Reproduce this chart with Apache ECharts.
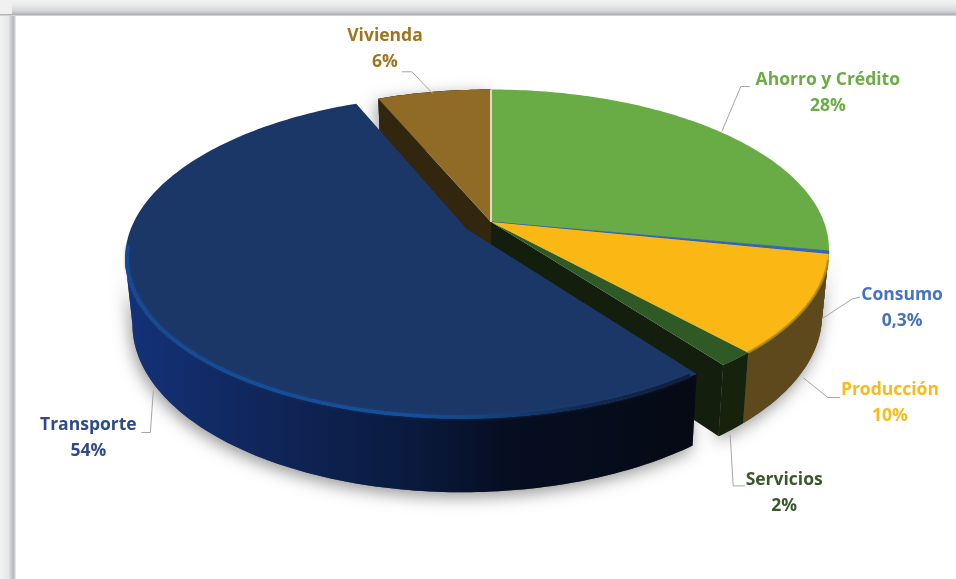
<!DOCTYPE html>
<html><head><meta charset="utf-8">
<style>html,body{margin:0;padding:0;background:#fff}#c{width:956px;height:579px}</style>
<script src="https://cdn.jsdelivr.net/npm/echarts@6/dist/echarts.min.js"></script>
</head><body><div id="c"></div>
<script>
// ---- data ----
const categories = ['Ahorro y Crédito','Consumo','Producción','Servicios','Transporte','Vivienda'];
const values     = [27.9, 0.3, 10.0, 1.5, 53.9, 6.4];
const valueLabels= ['28%','0,3%','10%','2%','54%','6%'];

// ---- styles ----
const topColors  = ['#69ab45','#3567b7','#fbb814','#2f5a25','#1b3768','#8f6b26'];
const wallColors = ['#2f5f20','#1d3a6a','#5e491c','#15230d','#12275c','#33260e'];
const cutColors  = [null,null,null,'#131e0c',null,'#33260e'];
const textColors = ['#6aad45','#4472c4','#f9bb1a','#37592b','#2f4a8a','#a0741f'];
const explode    = [0,0,0,0,0.085,0];
// label layout: anchor nudge, elbow and text centre relative to the leader's anchor on the slice
const anchorNudge= [[0,-1],[1,0],[2,4],[-1,5],[0,7],[-1,2]];
const elbowOffset= [[19,-45],[29,-19],[25,20],[3,51],[-3,42],[-21,-22]];
const endOffset  = [[28,-45],[37,-21],[37,20],[15,51],[-12,42],[-31,-22]];
const textOffset = [[106,-52],[79,-23],[87,12],[54,45],[-65,35],[-48,-58]];

// ---- projection of the tilted disc ----
const cx=491, cy=222, B=333, A=155, p=0.17, D=64, shrink=0.02;
const total = values.reduce((a,b)=>a+b,0);
const starts=[]; values.reduce((acc,v,i)=>{starts[i]=acc;return acc+v/total*360;},0);
function proj(u,v,z){
  const s=1/(1-p*v), b=1-shrink*z;
  return [cx+B*u*s*b, cy+A*v*s*b+D*s*z];
}
function rad(d){return d*Math.PI/180;}
function arc(a0,a1,z,eu,ev,n,r){
  const pts=[]; r=r||1; n=n||Math.max(4,Math.ceil(Math.abs(a1-a0)));
  for(let i=0;i<=n;i++){const a=rad(a0+(a1-a0)*i/n);pts.push(proj(r*Math.sin(a)+eu,-r*Math.cos(a)+ev,z));}
  return pts;
}
function grad(stops){return new echarts.graphic.LinearGradient(0,0,1,0,stops.map(c=>({offset:c[0],color:c[1]})));}

function renderItem(params,api){
  const i=params.dataIndex, val=api.value(0);
  const a0=starts[i], a1=a0+val/total*360, mid=(a0+a1)/2;
  const e=explode[i], eu=e*Math.sin(rad(mid)), ev=-e*Math.cos(rad(mid));
  const kids=[];
  const baseZ = i===4?30:(i===3||i===5?20:10);
  const top=arc(a0,a1,0,eu,ev), bot=arc(a0,a1,1,eu,ev);
  // outer wall: only the part in front of the silhouette's tangent point
  let from=0, to=top.length-1;
  if(i===4){ let m=0; top.forEach((q,k)=>{if(q[0]<top[m][0])m=k;}); to=m; }
  if(i===0){ let m=0; top.forEach((q,k)=>{if(q[0]>top[m][0])m=k;}); from=m; }
  const wallPts=top.slice(from,to+1).concat(bot.slice(from,to+1).reverse());
  let wallFill=wallColors[i];
  if(i===4) wallFill=grad([[0,'#14327a'],[0.2,'#11285f'],[0.5,'#0a1a3e'],[0.66,'#060e22'],[1,'#050a14']]);
  kids.push({type:'polygon',z2:1,shape:{points:wallPts},
    style:{fill:'#555',shadowColor:'rgba(0,0,0,0.4)',shadowBlur:16,shadowOffsetY:5,shadowOffsetX:-2}});
  kids.push({type:'polygon',z2:baseZ,shape:{points:wallPts},style:{fill:wallFill}});
  // cut face towards the gap
  if(cutColors[i]){
    const ang=(i===3)?a1:a0, t=rad(ang);
    const face=[proj(eu,ev,0),proj(Math.sin(t)+eu,-Math.cos(t)+ev,0),proj(Math.sin(t)+eu,-Math.cos(t)+ev,1),proj(eu,ev,1)];
    kids.push({type:'polygon',z2:baseZ+1,shape:{points:face},style:{fill:cutColors[i]}});
  }
  // top face
  const c=proj(eu,ev,0);
  kids.push({type:'polygon',z2:baseZ+2,shape:{points:[c].concat(top)},
    style:{fill:topColors[i],stroke:i===1?'#2c5aa8':null,lineWidth:i===1?0.8:0}});
  // soft rim on the upper edge of the visible wall
  if(i===4){
    kids.push({type:'polyline',z2:baseZ+3,shape:{points:arc(a0+1,a0+121,0,eu,ev,120,0.994)},
      style:{fill:'none',lineWidth:3.5,stroke:grad([[0,'#164a93'],[0.5,'#15509c'],[0.63,'#13457f'],[0.8,'#122a52'],[1,'#101e38']]),shadowColor:'rgba(20,70,140,0.6)',shadowBlur:3}});
  }
  if(i===2){
    kids.push({type:'polyline',z2:baseZ+3,shape:{points:top.slice(2)},
      style:{fill:'none',lineWidth:2.5,stroke:'#a8872a',opacity:.8}});
  }
  if(i===0){
    kids.push({type:'polyline',z2:40,shape:{points:[proj(0,0,0),proj(0,-1,0)]},style:{fill:'none',stroke:'#f8f8f0',lineWidth:1.5}});
  }
  // leader line and text
  const mu=Math.sin(rad(mid))+eu, mv=-Math.cos(rad(mid))+ev;
  const raw=proj(mu,mv,mv>0?1:0);
  const anchor=[raw[0]+anchorNudge[i][0],raw[1]+anchorNudge[i][1]];
  const el=[anchor[0]+elbowOffset[i][0],anchor[1]+elbowOffset[i][1]];
  const en=[anchor[0]+endOffset[i][0],anchor[1]+endOffset[i][1]];
  kids.push({type:'polyline',z2:41,shape:{points:[anchor,el,en]},style:{fill:'none',stroke:'#a6a6a6',lineWidth:1}});
  const tx=anchor[0]+textOffset[i][0], ty=anchor[1]+textOffset[i][1];
  const font='bold 17.5px "Open Sans"';
  [categories[i],valueLabels[i]].forEach((t,k)=>{
    kids.push({type:'text',z2:42,style:{text:t,x:tx,y:ty+k*26,fill:textColors[i],font:font,align:'center',verticalAlign:'middle'}});
  });
  return {type:'group',children:kids};
}

const chart=echarts.init(document.getElementById('c'),null,{renderer:'canvas'});
chart.setOption({
  animation:false,
  backgroundColor:'#ffffff',
  graphic:[
    {type:'rect',z:0,shape:{x:0,y:0,width:956,height:16},style:{fill:new echarts.graphic.LinearGradient(0,0,0,1,[{offset:0,color:'#f3f3f3'},{offset:.28,color:'#e9eaeb'},{offset:.7,color:'#d4d5d6'},{offset:.92,color:'#aeb0b3'},{offset:1,color:'#e6e6e6'}])}},
    {type:'rect',z:0,shape:{x:0,y:16,width:16,height:563},style:{fill:new echarts.graphic.LinearGradient(0,0,1,0,[{offset:0,color:'#f2f2f2'},{offset:.55,color:'#e6e7e8'},{offset:.7,color:'#c9cacb'},{offset:.85,color:'#b9babc'},{offset:1,color:'#f0f0f0'}])}},
    {type:'rect',z:1,shape:{x:0,y:0,width:12,height:14},style:{fill:'#f0f0f0'}}
  ],
  series:[{type:'custom',coordinateSystem:'none',renderItem:renderItem,clip:false,silent:true,data:values.map(v=>[v])}]
});
</script></body></html>
